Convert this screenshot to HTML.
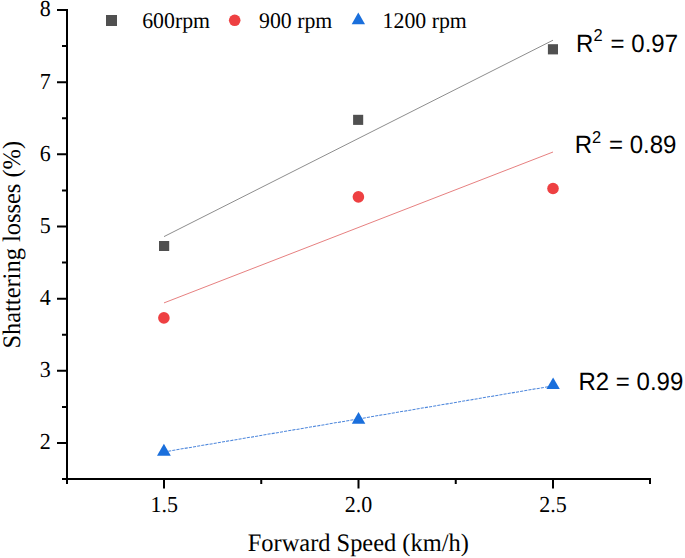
<!DOCTYPE html>
<html><head><meta charset="utf-8"><style>
html,body{margin:0;padding:0;background:#fff;width:685px;height:558px;overflow:hidden}
svg{display:block}
text{text-rendering:geometricPrecision}
.s{font-family:"Liberation Serif",serif;fill:#000}
.a{font-family:"Liberation Sans",sans-serif;fill:#000}
</style></head><body>
<svg width="685" height="558" viewBox="0 0 685 558">
<rect width="685" height="558" fill="#fff"/>
<!-- trend lines -->
<line x1="164" y1="236.6" x2="553" y2="40.2" stroke="#707070" stroke-width="0.8"/>
<line x1="164" y1="302.9" x2="553" y2="152" stroke="#e06060" stroke-width="0.8"/>
<line x1="164" y1="451.9" x2="553" y2="385.9" stroke="#4f88dc" stroke-width="1.05" stroke-dasharray="3.1 1.1"/>
<!-- axes -->
<g stroke="#000" stroke-width="2" fill="none">
<line x1="67" y1="9" x2="67" y2="484"/>
<line x1="62" y1="479" x2="651" y2="479"/>
<!-- y major -->
<path d="M57 10H67M57 82.17H67M57 154.33H67M57 226.5H67M57 298.67H67M57 370.83H67M57 443H67"/>
<!-- y minor -->
<path d="M62 46.08H67M62 118.25H67M62 190.42H67M62 262.58H67M62 334.75H67M62 406.92H67"/>
<!-- x major -->
<path d="M164 479V488.5M358.5 479V488.5M553 479V488.5"/>
<!-- x minor -->
<path d="M261.25 479V484M455.75 479V484M650 479V484"/>
</g>
<!-- y tick labels -->
<g class="s" font-size="22" text-anchor="end">
<text transform="translate(50.8,16.4) scale(1,1.04)">8</text>
<text transform="translate(50.8,88.6) scale(1,1.04)">7</text>
<text transform="translate(50.8,160.7) scale(1,1.04)">6</text>
<text transform="translate(50.8,232.8) scale(1,1.04)">5</text>
<text transform="translate(50.8,305.0) scale(1,1.04)">4</text>
<text transform="translate(50.8,377.1) scale(1,1.04)">3</text>
<text transform="translate(50.8,449.3) scale(1,1.04)">2</text>
</g>
<!-- x tick labels -->
<g class="s" font-size="22" text-anchor="middle">
<text transform="translate(164.3,512.1) scale(1,1.04)">1.5</text>
<text transform="translate(358.5,512.1) scale(1,1.04)">2.0</text>
<text transform="translate(553,512.1) scale(1,1.04)">2.5</text>
</g>
<!-- axis titles -->
<text class="s" font-size="24.42" transform="translate(247.8,550.6) scale(1,1.03)">Forward Speed (km/h)</text>
<text class="s" font-size="24.45" transform="translate(20.4,348.6) rotate(-90) scale(1,1.03)">Shattering losses (%)</text>
<!-- legend -->
<rect x="106" y="15" width="11" height="11" fill="#505050"/>
<text class="s" font-size="21.8" transform="translate(142.2,27.5) scale(1,1.03)">600rpm</text>
<circle cx="234.7" cy="20.3" r="5.8" fill="#ee4042"/>
<text class="s" font-size="21.8" transform="translate(259.0,27.5) scale(1,1.03)">900 rpm</text>
<path d="M358.3 12.6L365 24.3L351.7 24.3Z" fill="#1a6fdc"/>
<text class="s" font-size="21.8" transform="translate(382.6,27.5) scale(1,1.03)">1200 rpm</text>
<!-- markers -->
<g fill="#505050">
<rect x="159" y="241" width="10.2" height="10" />
<rect x="353.1" y="114.8" width="10.1" height="10.1"/>
<rect x="547.9" y="44.2" width="10.1" height="10.2"/>
</g>
<g fill="#ee4042">
<circle cx="163.9" cy="317.9" r="5.8"/>
<circle cx="358.4" cy="196.9" r="5.8"/>
<circle cx="553" cy="188.5" r="5.8"/>
</g>
<g fill="#1a6fdc">
<path d="M163.9 443.7L170.8 455.7L157 455.7Z"/>
<path d="M358.5 412L365.3 423.7L351.8 423.7Z"/>
<path d="M553.1 377.5L559.8 389.1L546.4 389.1Z"/>
</g>
<!-- R2 labels -->
<g class="a" font-size="24">
<text transform="translate(0,51.7) scale(1,1.045)"><tspan x="576" y="0">R</tspan><tspan x="593.5" y="-9.8" font-size="16.5">2</tspan><tspan x="610.6" y="0">= 0.97</tspan></text>
<text transform="translate(0,153.4) scale(1,1.045)"><tspan x="574.8" y="0">R</tspan><tspan x="592.1" y="-10.1" font-size="16.5">2</tspan><tspan x="609" y="0">= 0.89</tspan></text>
<text transform="translate(578.5,389.7) scale(1,1.04)">R2 = 0.99</text>
</g>
</svg>
</body></html>
